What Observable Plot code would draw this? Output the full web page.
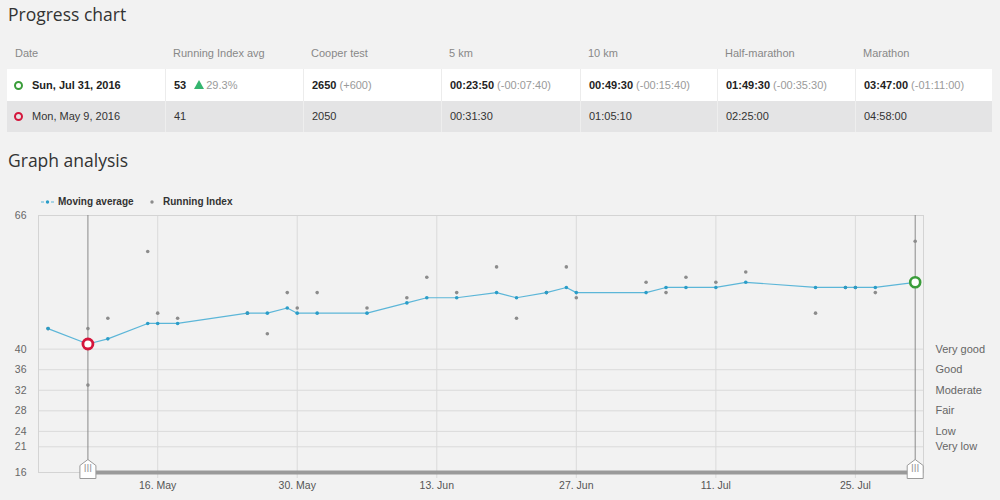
<!DOCTYPE html>
<html><head><meta charset="utf-8">
<script src="https://cdn.jsdelivr.net/npm/d3@7"></script>
<script src="https://cdn.jsdelivr.net/npm/@observablehq/plot@0.6"></script>
<style>
body{margin:0;background:#f2f2f2;width:1000px;height:500px;overflow:hidden;position:relative;font-family:"Liberation Sans",Arial,sans-serif;}
.title{position:absolute;left:8px;font-family:"Open Sans",sans-serif;font-size:17.5px;line-height:17.5px;color:#333;white-space:nowrap;}
.row{position:absolute;left:7px;width:985px;}
.cell{position:absolute;top:0;height:100%;box-sizing:border-box;padding-left:8px;font-size:11px;white-space:nowrap;}
.hdr .cell{color:#888;}
.r1{background:#fff;}
.r1 .cell{color:#222;border-left:1px solid #ececec;}
.r2{background:#e4e4e5;}
.r2 .cell{color:#333;border-left:1px solid #eeeeee;}
.r1 .cell:first-child,.r2 .cell:first-child{border-left:none;}
.delta{color:#9a9a9a;font-weight:normal;}
.ring{display:inline-block;width:5px;height:5px;border-radius:50%;border:2.5px solid;vertical-align:middle;margin:0 9px 0 -1px;position:relative;top:-1px;}
.tri{display:inline-block;width:0;height:0;border-left:5.5px solid transparent;border-right:5.5px solid transparent;border-bottom:9px solid #35b56f;margin:0 2px 0 8px;position:relative;top:-0.5px;}
#legend{position:absolute;top:195px;left:0;height:14px;width:400px;font-weight:bold;font-size:10px;line-height:14px;color:#333;}
#legend span{position:absolute;top:0;}
#chart{position:absolute;top:190px;left:0;}
</style></head>
<body>
<div class="title" style="top:6px">Progress chart</div>
<div id="table"></div>
<div class="title" style="top:151.5px">Graph analysis</div>
<div id="legend">
  <svg style="position:absolute;left:40px;top:3px" width="16" height="8"><line x1="1" y1="4" x2="14" y2="4" stroke="#5cb6d8" stroke-width="1.2" stroke-dasharray="3,2"/><circle cx="7.5" cy="4" r="1.7" fill="#2a9dc8"/></svg>
  <span style="left:58px">Moving average</span>
  <svg style="position:absolute;left:149px;top:4px" width="6" height="6"><circle cx="3" cy="3" r="1.7" fill="#8c8c8c"/></svg>
  <span style="left:163px">Running Index</span>
</div>
<div id="chart"></div>
<script>
// ---- table data ----
const headers = ["Date","Running Index avg","Cooper test","5 km","10 km","Half-marathon","Marathon"];
const latestRow = ["Sun, Jul 31, 2016","53","2650","00:23:50","00:49:30","01:49:30","03:47:00"];
const latestDelta = ["","29.3%","(+600)","(-00:07:40)","(-00:15:40)","(-00:35:30)","(-01:11:00)"];
const earlierRow = ["Mon, May 9, 2016","41","2050","00:31:30","01:05:10","02:25:00","04:58:00"];

// ---- chart data ----
const maDates = ["2016-05-05","2016-05-09","2016-05-11","2016-05-15","2016-05-16","2016-05-18","2016-05-25","2016-05-27","2016-05-29","2016-05-30","2016-06-01","2016-06-06","2016-06-10","2016-06-12","2016-06-15","2016-06-19","2016-06-21","2016-06-24","2016-06-26","2016-06-27","2016-07-04","2016-07-06","2016-07-08","2016-07-11","2016-07-14","2016-07-21","2016-07-24","2016-07-25","2016-07-27","2016-07-31"];
const maValues = [44,41,42,45,45,45,47,47,48,47,47,47,49,50,50,51,50,51,52,51,51,52,52,52,53,52,52,52,52,53];
const riDates = ["2016-05-05","2016-05-09","2016-05-09","2016-05-11","2016-05-15","2016-05-16","2016-05-18","2016-05-25","2016-05-27","2016-05-29","2016-05-30","2016-06-01","2016-06-06","2016-06-10","2016-06-12","2016-06-15","2016-06-19","2016-06-21","2016-06-24","2016-06-26","2016-06-27","2016-07-04","2016-07-06","2016-07-08","2016-07-11","2016-07-14","2016-07-21","2016-07-24","2016-07-25","2016-07-27","2016-07-31"];
const riValues = [44,44,33,46,59,47,46,47,43,51,48,51,48,50,54,51,56,46,51,56,50,53,51,54,53,55,47,52,52,51,61];
const compareDates = ["2016-05-09","2016-07-31"];
const compareValues = [41,53];
const xTickDates = ["2016-05-16","2016-05-30","2016-06-13","2016-06-27","2016-07-11","2016-07-25"];
const yTicks = [66,40,36,32,28,24,21,16];
const levelValues = [40,36,32,28,24,21];
const levelNames = ["Very good","Good","Moderate","Fair","Low","Very low"];

// ---- build table ----
const colLeft = [0,158,296,434,573,710,848];
const colRight = 985;
function makeRow(cls, top, h, cellsHtml){
  const r = document.createElement("div");
  r.className = "row " + cls;
  r.style.top = top + "px"; r.style.height = h + "px";
  cellsHtml.forEach((html,i)=>{
    const c = document.createElement("div");
    c.className = "cell";
    c.style.left = colLeft[i] + "px";
    c.style.width = ((i<colLeft.length-1?colLeft[i+1]:colRight) - colLeft[i]) + "px";
    c.style.lineHeight = h + "px";
    c.innerHTML = html;
    r.appendChild(c);
  });
  document.getElementById("table").appendChild(r);
}
makeRow("hdr", 40, 26, headers);
makeRow("r1", 69, 32, latestRow.map((v,i)=>{
  if(i===0) return `<span class="ring" style="border-color:#3a9d3a"></span><b>${v}</b>`;
  if(i===1) return `<b>${v}</b><span class="tri"></span><span class="delta">${latestDelta[i]}</span>`;
  return `<b>${v}</b> <span class="delta">${latestDelta[i]}</span>`;
}));
makeRow("r2", 101, 31, earlierRow.map((v,i)=>{
  if(i===0) return `<span class="ring" style="border-color:#d4163c"></span>${v}`;
  return v;
}));

// ---- chart ----
const parse = d3.utcParse("%Y-%m-%d");
const ma = maDates.map((d,i)=>({date:parse(d), value:maValues[i]}));
const ri = riDates.map((d,i)=>({date:parse(d), value:riValues[i]}));
const cmp = compareDates.map((d,i)=>({date:parse(d), value:compareValues[i]}));
const xTicks = xTickDates.map(parse);
const levelMap = new Map(levelValues.map((v,i)=>[v, levelNames[i]]));
const span = [{lo:cmp[0].date, hi:cmp[cmp.length-1].date, y:yTicks[yTicks.length-1]}];

const handle = {
  draw(ctx){
    ctx.moveTo(0,-13); ctx.lineTo(8,-7); ctx.lineTo(8,6); ctx.lineTo(-8,6); ctx.lineTo(-8,-7); ctx.closePath();
  }
};

const chart = Plot.plot({
  width:1000, height:310,
  marginLeft:38, marginRight:77, marginTop:25, marginBottom:28,
  style:{background:"transparent", fontFamily:"Liberation Sans, Arial, sans-serif", fontSize:"10.5px", overflow:"visible"},
  x:{type:"utc", domain:[new Date(Date.UTC(2016,4,4,1)), new Date(Date.UTC(2016,6,31,20))]},
  y:{domain:[16,66]},
  marks:[
    Plot.ruleY(levelValues, {stroke:"#dadada"}),
    Plot.ruleX(xTicks, {stroke:"#dadada", insetBottom:-6}),
    Plot.frame({stroke:"#d4d4d4"}),
    Plot.ruleY(span, {y:"y", x1:"lo", x2:"hi", stroke:"#9a9a9a", strokeWidth:4}),
    Plot.ruleX(cmp, {x:"date", stroke:"#8a8a8a", strokeWidth:1}),
    Plot.line(ma, {x:"date", y:"value", stroke:"#5cb6d8", strokeWidth:1.2}),
    Plot.dot(ri, {x:"date", y:"value", r:1.8, fill:"#8c8c8c"}),
    Plot.dot(ma, {x:"date", y:"value", r:1.8, fill:"#2a9dc8"}),
    Plot.dot([cmp[0]], {x:"date", y:"value", r:5, fill:"white", stroke:"#d4163c", strokeWidth:2.8}),
    Plot.dot([cmp[cmp.length-1]], {x:"date", y:"value", r:5, fill:"white", stroke:"#3a9d3a", strokeWidth:2.6}),
    Plot.dot(cmp, {x:"date", frameAnchor:"bottom", symbol:handle, fill:"white", stroke:"#9a9a9a", strokeWidth:1}),
    Plot.text(cmp, {x:"date", frameAnchor:"bottom", text:()=>"III", dy:-0.5, fontSize:10, fill:"#999"}),
    Plot.axisX(xTicks, {tickSize:0, tickPadding:9, tickFormat:d3.utcFormat("%-d. %b"), fill:"#555", fontSize:10.5, label:null}),
    Plot.axisY(yTicks, {tickSize:0, tickPadding:12, fill:"#666", fontSize:10.5, label:null}),
    Plot.axisY(levelValues, {anchor:"right", tickSize:0, tickPadding:12, tickFormat:d=>levelMap.get(d), fill:"#666", fontSize:11, label:null})
  ]
});
document.getElementById("chart").appendChild(chart);
</script>
</body></html>
